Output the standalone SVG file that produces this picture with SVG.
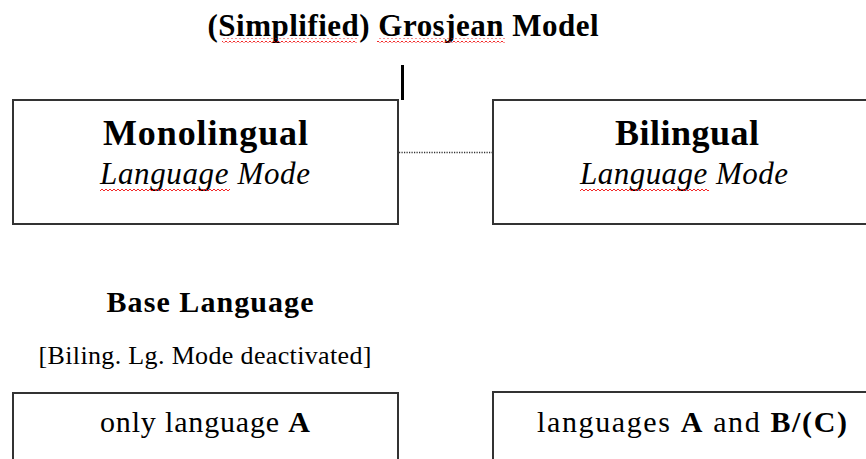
<svg xmlns="http://www.w3.org/2000/svg" width="866" height="459" viewBox="0 0 866 459">
  <defs>
    <!-- red squiggle used under flagged words -->
    <pattern id="squiggle" patternUnits="userSpaceOnUse" width="4" height="4">
      <polyline points="0,3 2,1 4,3" fill="none" stroke="#f01010" stroke-width="0.9"/>
    </pattern>
    <style>
      text { font-family: "Liberation Serif", "Times New Roman", serif; fill: #000; }
      .title { font-size: 31px; font-weight: bold; }
      .head { font-size: 36px; font-weight: bold; }
      .mode { font-size: 31px; font-style: italic; }
      .label { font-size: 30px; font-weight: bold; }
      .note { font-size: 26px; }
      .body { font-size: 30px; }
      .b { font-weight: bold; }
      .box { fill: #fff; stroke: #333; stroke-width: 2; }
      .wave { fill: url(#squiggle); }
    </style>
  </defs>

  <rect width="866" height="459" fill="#fff"/>

  <!-- title -->
  <g id="title">
    <text class="title" x="403" y="36" text-anchor="middle" textLength="391" lengthAdjust="spacing">(Simplified) Grosjean Model</text>
    <rect class="wave" x="222" y="38.5" width="135" height="4"/>
    <rect class="wave" x="377" y="38.5" width="128" height="4"/>
  </g>

  <!-- connectors -->
  <g id="connectors">
    <line x1="402.5" y1="65" x2="402.5" y2="100" stroke="#000" stroke-width="3"/>
    <line x1="399" y1="152.5" x2="493" y2="152.5" stroke="#333" stroke-width="1.5" stroke-dasharray="1.2 1.3"/>
  </g>

  <!-- monolingual mode -->
  <g id="monolingual">
    <rect class="box" x="13" y="100" width="385" height="124"/>
    <text class="head" x="205.5" y="145" text-anchor="middle" textLength="205" lengthAdjust="spacing">Monolingual</text>
    <text class="mode" x="205" y="184" text-anchor="middle" textLength="210" lengthAdjust="spacing">Language Mode</text>
    <rect class="wave" x="100" y="187" width="130" height="4"/>
  </g>

  <!-- bilingual mode -->
  <g id="bilingual">
    <rect class="box" x="493" y="100" width="390" height="124"/>
    <text class="head" x="687" y="145" text-anchor="middle" textLength="144" lengthAdjust="spacing">Bilingual</text>
    <text class="mode" x="684" y="184" text-anchor="middle" textLength="208" lengthAdjust="spacing">Language Mode</text>
    <rect class="wave" x="580" y="187" width="129" height="4"/>
  </g>

  <!-- base language caption -->
  <g id="base-language">
    <text class="label" x="210" y="312" text-anchor="middle" textLength="207" lengthAdjust="spacing">Base Language</text>
    <text class="note" x="205" y="364" text-anchor="middle" textLength="333" lengthAdjust="spacing">[Biling. Lg. Mode deactivated]</text>
  </g>

  <!-- language sets -->
  <g id="only-a">
    <rect class="box" x="13" y="393" width="385" height="80"/>
    <text class="body" x="205" y="432" text-anchor="middle" textLength="210" lengthAdjust="spacing">only language <tspan class="b">A</tspan></text>
  </g>

  <g id="a-and-b">
    <rect class="box" x="493" y="392" width="390" height="80"/>
    <text class="body" x="692" y="432" text-anchor="middle" textLength="310" lengthAdjust="spacing">languages <tspan class="b">A</tspan> and <tspan class="b">B/(C)</tspan></text>
  </g>
</svg>
